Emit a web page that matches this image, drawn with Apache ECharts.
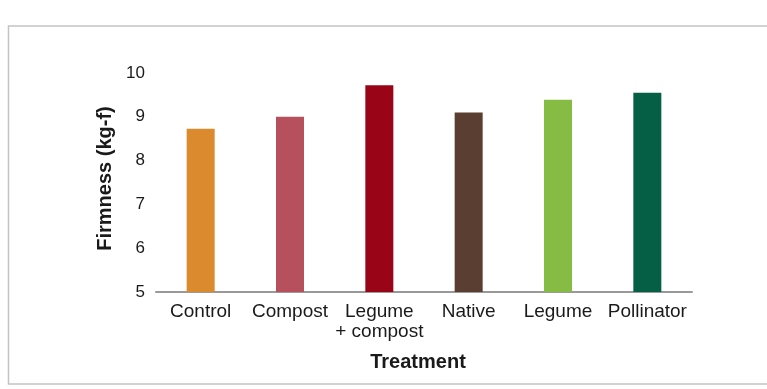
<!DOCTYPE html>
<html>
<head>
<meta charset="utf-8">
<script src="https://cdn.jsdelivr.net/npm/echarts@6/dist/echarts.min.js"></script>
<style>
html,body{margin:0;padding:0;background:#fff;}
#chart{width:767px;height:389px;}
</style>
</head>
<body>
<div id="chart"></div>
<script>
const categories = ['Control', 'Compost', 'Legume\n+ compost', 'Native', 'Legume', 'Pollinator'];
const firmness = [8.73, 9.0, 9.72, 9.1, 9.39, 9.55];
const barColors = ['#DC8A2E', '#B5505C', '#990517', '#5A3E31', '#86BC44', '#045F45'];
const yTicks = [5, 6, 7, 8, 9, 10];

const chart = echarts.init(document.getElementById('chart'), null, {renderer: 'canvas'});
const font = "'Liberation Sans', Arial, sans-serif";
chart.setOption({
  animation: false,
  backgroundColor: '#fff',
  graphic: [{
    type: 'rect',
    shape: {x: 8.5, y: 26, width: 800, height: 358},
    style: {fill: 'none', stroke: '#c4c4c4', lineWidth: 1.5},
    silent: true
  }],
  grid: {left: 156, right: 75, top: 73, bottom: 97, containLabel: false},
  xAxis: {
    type: 'category',
    data: categories,
    axisLine: {show: true, lineStyle: {color: '#999', width: 2}},
    axisTick: {show: false},
    axisLabel: {
      color: '#1a1a1a', fontFamily: font, fontSize: 19, margin: 10, lineHeight: 20,
      interval: 0
    },
    name: 'Treatment',
    nameLocation: 'middle',
    nameGap: 60,
    nameTextStyle: {color: '#1a1a1a', fontFamily: font, fontSize: 20, fontWeight: 'bold', padding: [0, 12, 0, 0]}
  },
  yAxis: {
    type: 'value',
    min: yTicks[0],
    max: yTicks[yTicks.length - 1],
    interval: 1,
    splitLine: {show: false},
    axisLine: {show: false},
    axisTick: {show: false},
    axisLabel: {color: '#1a1a1a', fontFamily: font, fontSize: 17, margin: 11},
    name: 'Firmness (kg-f)',
    nameLocation: 'middle',
    nameRotate: 90,
    nameGap: 41,
    nameTextStyle: {color: '#1a1a1a', fontFamily: font, fontSize: 20, fontWeight: 'bold', padding: [0, 0, 0, 8]}
  },
  series: [{
    type: 'bar',
    data: firmness.map((v, i) => ({value: v, itemStyle: {color: barColors[i]}})),
    barWidth: 28
  }]
});
</script>
</body>
</html>
